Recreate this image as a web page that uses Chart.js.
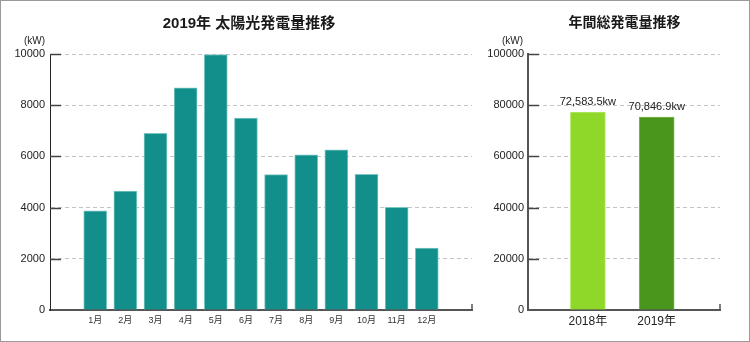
<!DOCTYPE html>
<html>
<head>
<meta charset="utf-8">
<script src="https://cdn.jsdelivr.net/npm/chart.js@4"></script>
<style>
  html, body { margin: 0; padding: 0; background: #fff; }
  #wrap { position: relative; width: 750px; height: 342px; overflow: hidden; }
  #monthly { position: absolute; left: 0; top: 0; }
  #yearly { position: absolute; left: 480px; top: 0; }
  #frame { position: absolute; left: 0; top: 0; width: 750px; height: 342px; box-sizing: border-box; border: 1px solid #9a9a9a; pointer-events: none; }
</style>
</head>
<body>
<div id="wrap">
  <canvas id="monthly" width="480" height="342"></canvas>
  <canvas id="yearly" width="269" height="342"></canvas>
  <div id="frame"></div>
</div>
<script>
// monthly chart data
const months = ['1月','2月','3月','4月','5月','6月','7月','8月','9月','10月','11月','12月'];
const monthlyOutput = [3870, 4650, 6900, 8680, 9980, 7500, 5290, 6060, 6260, 5300, 4010, 2420];
const monthlyTicks = [0, 2000, 4000, 6000, 8000, 10000];

// yearly chart data
const years = ['2018年', '2019年'];
const yearlyOutput = [77300, 75400];
const yearlyLabels = ['72,583.5kw', '70,846.9kw'];
const yearlyTicks = [0, 20000, 40000, 60000, 80000, 100000];

const FONT = 'Arial, "Liberation Sans", "Noto Sans CJK JP", sans-serif';
Chart.defaults.font.family = FONT;
Chart.defaults.color = '#222';

// title, unit label, inner tick marks and the little end mark on the x axis
const panelText = {
  id: 'panelText',
  afterDraw(chart, args, opts) {
    const ctx = chart.ctx;
    const area = chart.chartArea;
    const y = chart.scales.y;
    ctx.save();
    ctx.fillStyle = '#1a1a1a';
    ctx.textAlign = 'center';
    ctx.textBaseline = 'middle';
    ctx.font = opts.titleFont;
    ctx.fillText(opts.title, opts.titleX, opts.titleY);

    ctx.font = '10px ' + FONT;
    ctx.textAlign = 'right';
    ctx.fillStyle = '#222';
    ctx.fillText('(kW)', area.left - 5, 41);

    ctx.strokeStyle = '#444';
    ctx.lineWidth = 1.5;
    y.ticks.forEach(t => {
      if (t.value === 0) return;
      const py = Math.round(y.getPixelForValue(t.value)) + 0.5;
      ctx.beginPath();
      ctx.moveTo(area.left, py);
      ctx.lineTo(area.left + 11, py);
      ctx.stroke();
    });

    ctx.strokeStyle = '#555';
    ctx.beginPath();
    ctx.moveTo(area.right, area.bottom);
    ctx.lineTo(area.right, area.bottom - 6);
    ctx.stroke();
    ctx.restore();
  }
};

// value labels above the yearly bars
const barLabels = {
  id: 'barLabels',
  afterDatasetsDraw(chart) {
    const ctx = chart.ctx;
    const meta = chart.getDatasetMeta(0);
    ctx.save();
    ctx.font = '11px ' + FONT;
    ctx.fillStyle = '#222';
    ctx.textAlign = 'center';
    ctx.textBaseline = 'bottom';
    meta.data.forEach((bar, i) => {
      ctx.fillText(yearlyLabels[i], bar.x, bar.y - 5);
    });
    ctx.restore();
  }
};

new Chart(document.getElementById('monthly'), {
  type: 'bar',
  data: {
    labels: [''].concat(months, ['']),
    datasets: [{
      data: [null].concat(monthlyOutput, [null]),
      backgroundColor: '#138f8b',
      borderColor: '#7cc7c2',
      borderWidth: 1,
      barThickness: 23
    }]
  },
  options: {
    responsive: false,
    animation: false,
    layout: { padding: { top: 54, right: 8, left: 0, bottom: 0 } },
    plugins: {
      legend: { display: false },
      tooltip: { enabled: false },
      panelText: {
        title: '2019年 太陽光発電量推移',
        titleFont: 'bold 15px ' + FONT,
        titleX: 249,
        titleY: 24
      }
    },
    scales: {
      x: {
        afterFit: s => { s.height = 32; },
        grid: { drawOnChartArea: false, drawTicks: false },
        border: { display: true, color: '#555', width: 2 },
        ticks: { font: { size: 9 }, color: '#333', padding: 5 }
      },
      y: {
        min: 0,
        max: 10000,
        afterFit: s => { s.width = 50; },
        afterBuildTicks: s => { s.ticks = monthlyTicks.map(v => ({ value: v })); },
        grid: { color: '#c4c4c4', lineWidth: 1, drawTicks: false },
        border: { display: true, color: '#222', width: 1, dash: [4, 3] },
        ticks: { font: { size: 11 }, color: '#222', padding: 5, callback: v => String(v) }
      }
    }
  },
  plugins: [panelText]
});

new Chart(document.getElementById('yearly'), {
  type: 'bar',
  data: {
    datasets: [{
      data: yearlyOutput.map((v, i) => ({ x: i + 1, y: v })),
      backgroundColor: ['#8fd829', '#4a951b'],
      borderColor: ['#b5ea6c', '#78b94f'],
      borderWidth: 1,
      barThickness: 35
    }]
  },
  options: {
    responsive: false,
    animation: false,
    layout: { padding: { top: 54, right: 29, left: 0, bottom: 0 } },
    plugins: {
      legend: { display: false },
      tooltip: { enabled: false },
      panelText: {
        title: '年間総発電量推移',
        titleFont: 'bold 14px ' + FONT,
        titleX: 144.5,
        titleY: 23
      }
    },
    scales: {
      x: {
        type: 'linear',
        offset: false,
        min: 0.13,
        max: 2.92,
        afterFit: s => { s.height = 32; },
        afterBuildTicks: s => { s.ticks = years.map((_, i) => ({ value: i + 1 })); },
        grid: { drawOnChartArea: false, drawTicks: false },
        border: { display: true, color: '#555', width: 2 },
        ticks: { font: { size: 12 }, color: '#222', padding: 4, callback: v => years[v - 1] }
      },
      y: {
        min: 0,
        max: 100000,
        afterFit: s => { s.width = 48; },
        afterBuildTicks: s => { s.ticks = yearlyTicks.map(v => ({ value: v })); },
        grid: { color: '#c4c4c4', lineWidth: 1, drawTicks: false },
        border: { display: true, color: '#555', width: 2, dash: [4, 3] },
        ticks: { font: { size: 11 }, color: '#222', padding: 4, callback: v => String(v) }
      }
    }
  },
  plugins: [panelText, barLabels]
});
</script>
</body>
</html>
